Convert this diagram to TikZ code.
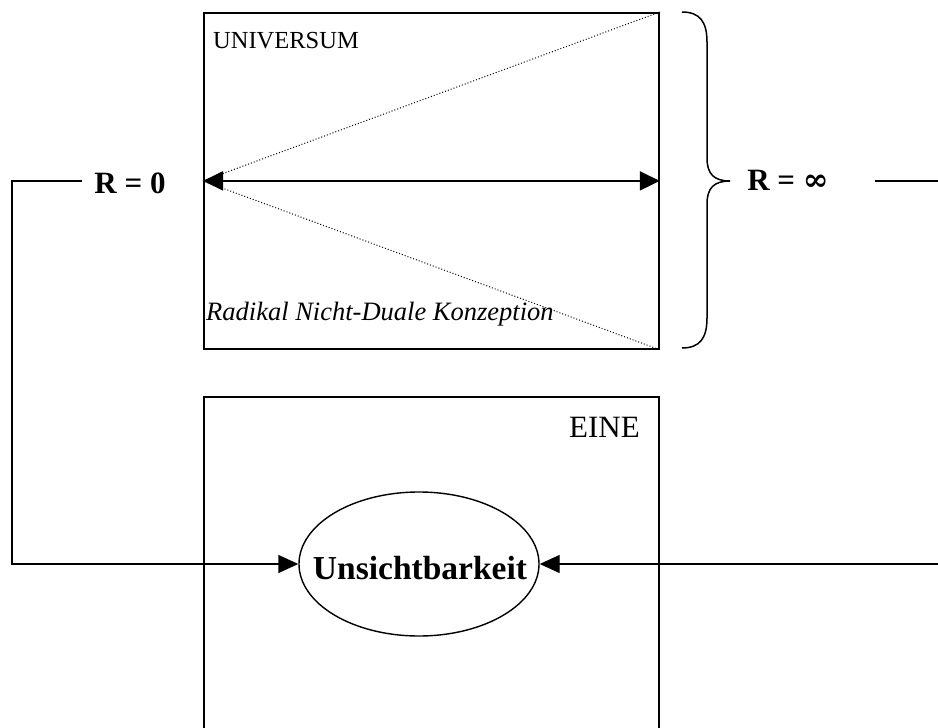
\documentclass[tikz,border=0pt]{standalone}
\usepackage{fontspec}
\setmainfont{Liberation Serif}
\newfontfamily\symfont{DejaVu Serif}
\usetikzlibrary{arrows.meta,shapes.geometric}
\tikzset{
  box/.style={draw, line width=1.8pt, anchor=north west, inner sep=0pt, minimum width=455pt},
  conn/.style={line width=1.4pt},
  tip/.style={-{Triangle[length=20pt,width=18pt]}},
  big/.style={font=\fontsize{31}{36}\selectfont},
  small/.style={font=\fontsize{24.5}{30}\selectfont},
}
\begin{document}
\begin{tikzpicture}[x=1pt,y=-1pt]
\useasboundingbox[fill=white] (0,0) rectangle (938,728);
% boxes
\node[box, minimum height=336pt] (top) at (203,12) {};
\node[box, minimum height=360pt] (bot) at (203,396) {};
% texts in boxes
\node[small, anchor=base west, inner sep=0pt] (univ) at (213,48) {UNIVERSUM};
\node[font=\fontsize{26.5}{30}\selectfont\itshape, anchor=base west, inner sep=0pt] (konz) at (206,320) {Radikal Nicht-Duale Konzeption};
\node[big, anchor=base east, inner sep=0pt] (eine) at (640,437) {EINE};
% dotted lines and double arrow
\draw[dotted, line width=1pt] (top.north east) -- (top.west) -- (top.south east);
\draw[line width=2pt, {Triangle[length=20pt,width=19pt]}-{Triangle[length=20pt,width=19pt]}] (top.west) -- (top.east);
% ellipse
\node[draw, ellipse, line width=1.4pt, minimum width=240pt, minimum height=144pt, inner sep=0pt] (uns) at (419,564) {};
\node[font=\fontsize{33.5}{36}\selectfont\bfseries, anchor=base, inner sep=0pt] (unstxt) at (420,579) {Unsichtbarkeit};
% brace
\draw[line width=1.5pt] (682,12) .. controls (700,12) and (707,22) .. (707,42) -- (707,158)
  .. controls (707,174) and (714,181) .. (730,181)
  .. controls (714,181) and (707,188) .. (707,204) -- (707,318)
  .. controls (707,338) and (700,348) .. (682,348);
% labels
\node[big, anchor=base, inner sep=0pt] (r0) at (130,193) {\bfseries R = 0};
\node[big, anchor=base, inner sep=0pt] (rinf) at (788,190) {\bfseries R = {\symfont ∞}};
% connectors
\coordinate (a1) at (82,181);
\coordinate (a2) at (12,181);
\coordinate (b1) at (875,181);
\coordinate (b2) at (948,181);
\draw[conn, tip] (a1) -- (a2) |- (uns.west);
\draw[conn, tip] (b1) -- (b2) |- (uns.east);
\end{tikzpicture}
\end{document}
